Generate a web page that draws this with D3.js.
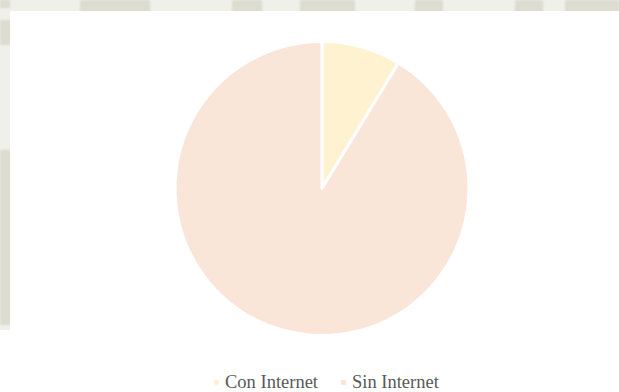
<!DOCTYPE html>
<html>
<head>
<meta charset="utf-8">
<script src="https://cdn.jsdelivr.net/npm/d3@7"></script>
<style>
  html, body { margin: 0; padding: 0; background: #ffffff; }
  svg { display: block; }
</style>
</head>
<body>
<svg id="chart" width="619" height="392"></svg>
<script>
// ---- data ----
const categories = ["Con Internet", "Sin Internet"];
const values = [8.7, 91.3];
const colors = ["#fff2d0", "#fae5d9"];

const W = 619, H = 392;
const svg = d3.select("#chart");

const defs = svg.append("defs");
defs.append("filter").attr("id", "soft")
  .append("feGaussianBlur").attr("stdDeviation", 1.2);

// faded background texture strips (decorative)
const bg = svg.append("g");
bg.append("rect").attr("x", 0).attr("y", 0).attr("width", W).attr("height", 11).attr("fill", "#f0f0ea");
bg.append("rect").attr("x", 0).attr("y", 0).attr("width", 10).attr("height", 330).attr("fill", "#f0f0ea");
const patches = [
  [0, 0, 10, 8], [80, 0, 70, 14], [232, 0, 30, 14], [300, 0, 55, 14],
  [415, 0, 28, 14], [515, 0, 28, 14], [565, 0, 54, 14],
  [0, 20, 12, 25], [0, 150, 12, 175]
];
bg.append("g").attr("filter", "url(#soft)")
  .selectAll("rect").data(patches).join("rect")
  .attr("x", d => d[0]).attr("y", d => d[1])
  .attr("width", d => d[2]).attr("height", d => d[3])
  .attr("fill", "#dcdcd0");
// chart area
svg.append("rect").attr("x", 10).attr("y", 11).attr("width", W - 10).attr("height", H - 11).attr("fill", "#ffffff");
svg.append("rect").attr("x", 0).attr("y", 330).attr("width", 10).attr("height", H - 330).attr("fill", "#ffffff");

// ---- pie ----
const cx = 322, cy = 188.5, r = 147;
const pie = d3.pie().sort(null).value(d => d);
const arc = d3.arc().innerRadius(0).outerRadius(r);
const color = d3.scaleOrdinal().domain(categories).range(colors);

svg.append("g")
  .attr("transform", `translate(${cx},${cy})`)
  .selectAll("path")
  .data(pie(values))
  .join("path")
  .attr("d", arc)
  .attr("fill", (d, i) => color(categories[i]))
  .attr("stroke", "#ffffff")
  .attr("stroke-width", 3)
  .attr("stroke-linejoin", "round");

// ---- legend ----
const legendX = [214, 341];
const lg = svg.append("g");
const items = lg.selectAll("g").data(categories).join("g")
  .attr("transform", (d, i) => `translate(${legendX[i]},0)`);
items.append("rect")
  .attr("x", 0).attr("y", 380).attr("width", 5).attr("height", 5)
  .attr("fill", d => color(d));
items.append("text")
  .attr("x", 11).attr("y", 388)
  .attr("font-family", "'Liberation Serif', 'Times New Roman', serif")
  .attr("font-size", 18.5)
  .attr("fill", "#595959")
  .text(d => d);
</script>
</body>
</html>
